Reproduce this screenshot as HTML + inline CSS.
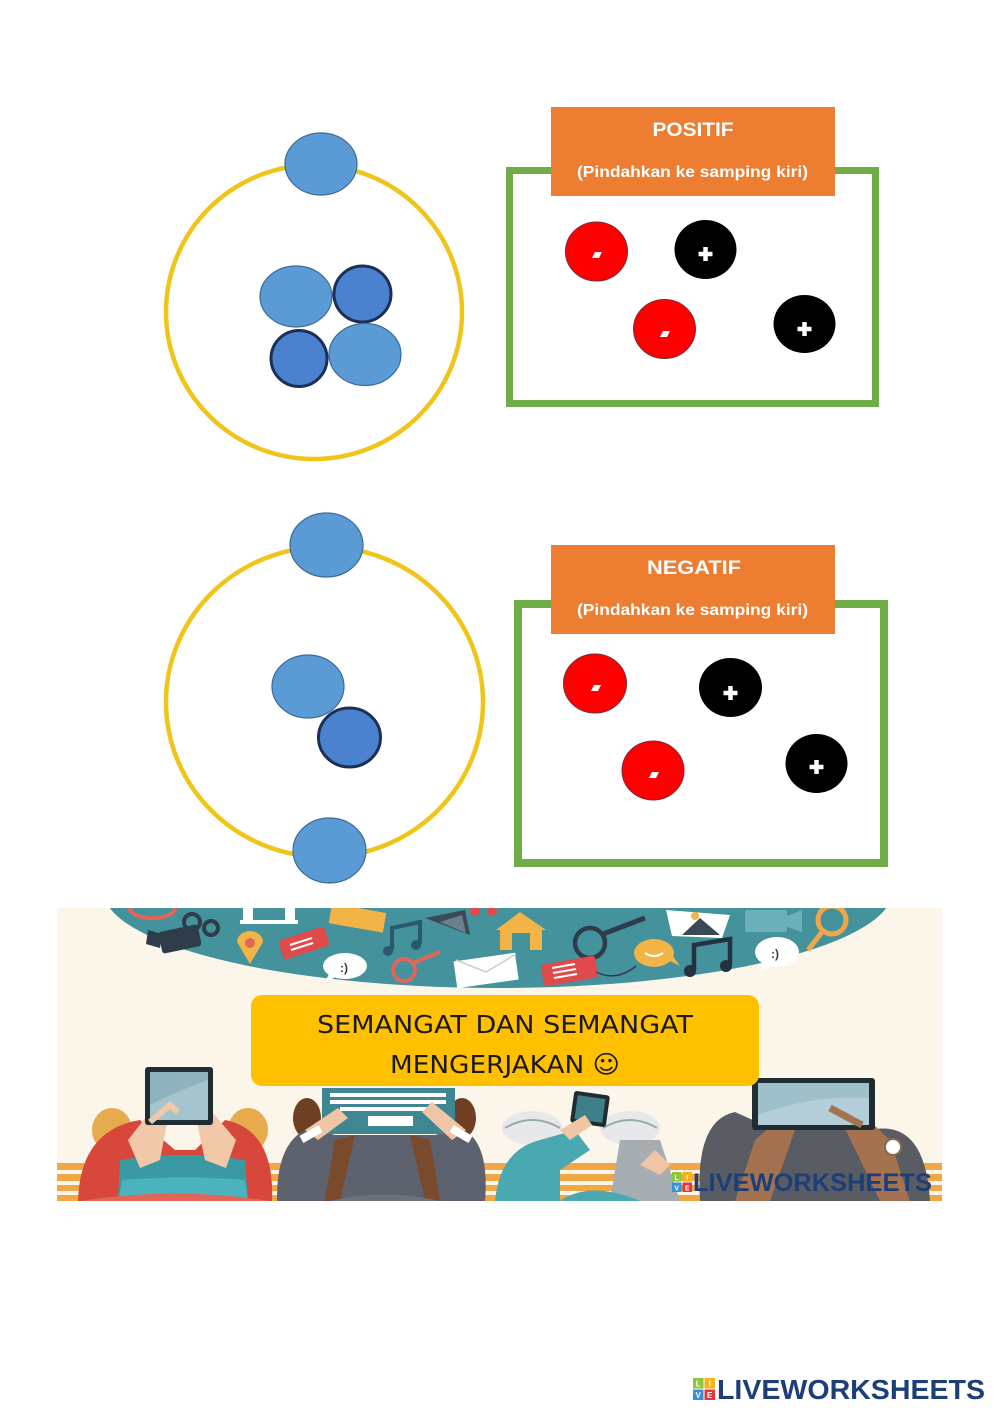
<!DOCTYPE html>
<html>
<head>
<meta charset="utf-8">
<style>
  html,body{margin:0;padding:0;background:#fff;}
  svg{display:block;}
  .lbl{font-family:"Liberation Sans",sans-serif;font-weight:bold;fill:#fff;}
  .cm{font-family:"Comic Sans MS","DejaVu Sans","Liberation Sans",sans-serif;fill:#1a1a1a;}
  .lw{font-family:"Liberation Sans",sans-serif;font-weight:bold;fill:#1d3f78;}
</style>
</head>
<body>
<svg width="1000" height="1414" viewBox="0 0 1000 1414" xmlns="http://www.w3.org/2000/svg">
  <rect width="1000" height="1414" fill="#fff"/>

  <!-- ===== ATOM 1 ===== -->
  <ellipse cx="314" cy="312" rx="148" ry="147" fill="none" stroke="#f0c419" stroke-width="4.5"/>
  <ellipse cx="321" cy="164" rx="36" ry="31" fill="#5b9bd5" stroke="#3d6a99" stroke-width="1.2"/>
  <ellipse cx="296" cy="296.5" rx="36" ry="30.5" fill="#5b9bd5" stroke="#3d6a99" stroke-width="1.2"/>
  <ellipse cx="362.5" cy="294" rx="28.5" ry="28" fill="#4a82d0" stroke="#1c2f55" stroke-width="3"/>
  <ellipse cx="299" cy="358.5" rx="28" ry="28" fill="#4a82d0" stroke="#1c2f55" stroke-width="3"/>
  <ellipse cx="365" cy="354.5" rx="36" ry="31" fill="#5b9bd5" stroke="#3d6a99" stroke-width="1.2"/>

  <!-- ===== POSITIF box ===== -->
  <rect x="509.5" y="170.5" width="366" height="233" fill="none" stroke="#70ad47" stroke-width="7"/>
  <rect x="551" y="107" width="284" height="89" fill="#ed7d31"/>
  <text class="lbl" x="693" y="136" font-size="19" text-anchor="middle" textLength="81" lengthAdjust="spacingAndGlyphs">POSITIF</text>
  <text class="lbl" x="692.5" y="177" font-size="16" text-anchor="middle" textLength="231" lengthAdjust="spacingAndGlyphs">(Pindahkan ke samping kiri)</text>

  <!-- charges 1 -->
  <g>
    <ellipse cx="596.5" cy="251.5" rx="31" ry="29.5" fill="#ff0000" stroke="#7a2a3a" stroke-width="1"/>
    <polygon points="592,258 599,258 602,252 595,252" fill="#fff"/>
    <ellipse cx="705.5" cy="249.5" rx="31" ry="29.5" fill="#000"/>
    <path d="M698.5 254 h14 M705.5 247 v14" stroke="#fff" stroke-width="4.5"/>
    <ellipse cx="664.5" cy="329" rx="31" ry="29.5" fill="#ff0000" stroke="#7a2a3a" stroke-width="1"/>
    <polygon points="660,337 667,337 670,331 663,331" fill="#fff"/>
    <ellipse cx="804.5" cy="324" rx="31" ry="29" fill="#000"/>
    <path d="M797.5 329 h14 M804.5 322 v14" stroke="#fff" stroke-width="4.5"/>
  </g>

  <!-- ===== ATOM 2 ===== -->
  <ellipse cx="324.5" cy="702" rx="158.5" ry="155" fill="none" stroke="#f0c419" stroke-width="4.5"/>
  <ellipse cx="326.5" cy="545" rx="36.5" ry="32" fill="#5b9bd5" stroke="#3d6a99" stroke-width="1.2"/>
  <ellipse cx="329.5" cy="850.5" rx="36.5" ry="32.5" fill="#5b9bd5" stroke="#3d6a99" stroke-width="1.2"/>
  <ellipse cx="308" cy="686.5" rx="36" ry="31.5" fill="#5b9bd5" stroke="#3d6a99" stroke-width="1.2"/>
  <ellipse cx="349.5" cy="737.5" rx="31" ry="29.5" fill="#4a82d0" stroke="#1c2f55" stroke-width="3"/>

  <!-- ===== NEGATIF box ===== -->
  <rect x="518" y="604" width="366" height="259" fill="none" stroke="#70ad47" stroke-width="8"/>
  <rect x="551" y="545" width="284" height="89" fill="#ed7d31"/>
  <text class="lbl" x="694" y="574" font-size="19" text-anchor="middle" textLength="94" lengthAdjust="spacingAndGlyphs">NEGATIF</text>
  <text class="lbl" x="692.5" y="615" font-size="16" text-anchor="middle" textLength="231" lengthAdjust="spacingAndGlyphs">(Pindahkan ke samping kiri)</text>

  <!-- charges 2 -->
  <g>
    <ellipse cx="595" cy="683.5" rx="31.5" ry="29.5" fill="#ff0000" stroke="#7a2a3a" stroke-width="1"/>
    <polygon points="591,691 598,691 601,685 594,685" fill="#fff"/>
    <ellipse cx="730.5" cy="687.5" rx="31.5" ry="29.5" fill="#000"/>
    <path d="M723.5 693 h14 M730.5 686 v14" stroke="#fff" stroke-width="4.5"/>
    <ellipse cx="653" cy="770.5" rx="31" ry="29.5" fill="#ff0000" stroke="#7a2a3a" stroke-width="1"/>
    <polygon points="649,778 656,778 659,772 652,772" fill="#fff"/>
    <ellipse cx="816.5" cy="763.5" rx="31" ry="29.5" fill="#000"/>
    <path d="M809.5 767 h14 M816.5 760 v14" stroke="#fff" stroke-width="4.5"/>
  </g>

  <!-- ===== BANNER ===== -->
  <defs>
    <clipPath id="bn"><rect x="57" y="908" width="885" height="293"/></clipPath>
  </defs>
  <g clip-path="url(#bn)">
    <rect x="57" y="908" width="885" height="293" fill="#fcf6ea"/>
    <!-- teal oval -->
    <ellipse cx="498" cy="890" rx="395" ry="98" fill="#43929c"/>
    <!-- icons -->
    <path d="M130 908 a22 10 0 0 0 45 0" fill="none" stroke="#e0665a" stroke-width="4"/>
    <rect x="243" y="908" width="10" height="14" fill="#fff"/><rect x="285" y="908" width="10" height="14" fill="#fff"/>
    <rect x="240" y="920" width="58" height="4" fill="#fff"/>
    <g fill="#2f3d4b">
      <rect x="160" y="928" width="40" height="22" rx="3" transform="rotate(-12 180 939)"/>
      <polygon points="148,930 162,934 160,948 146,944"/>
    </g>
    <circle cx="192" cy="922" r="8" fill="none" stroke="#2f3d4b" stroke-width="4"/>
    <circle cx="211" cy="928" r="7" fill="none" stroke="#2f3d4b" stroke-width="4"/>
    <path d="M237 942 a13 11 0 0 1 26 0 l-13 22 z" fill="#f2b347"/>
    <circle cx="250" cy="943" r="5" fill="#e0665a"/>
    <rect x="280" y="933" width="48" height="20" rx="3" fill="#e14a4a" transform="rotate(-18 304 943)"/>
    <g stroke="#fff" stroke-width="2"><line x1="290" y1="945" x2="312" y2="938"/><line x1="291" y1="950" x2="313" y2="943"/></g>
    <rect x="330" y="908" width="55" height="20" fill="#f2b347" transform="rotate(10 357 918)"/>
    <path d="M392 950 v-22 l28 -6 v22" fill="none" stroke="#2a5870" stroke-width="4"/>
    <circle cx="388" cy="951" r="5" fill="#2a5870"/><circle cx="416" cy="945" r="5" fill="#2a5870"/>
    <polygon points="425,918 465,910 470,935" fill="#3a4a56"/>
    <polygon points="440,922 462,915 466,933" fill="#6b7f8e"/>
    <ellipse cx="345" cy="966" rx="22" ry="13" fill="#fff"/>
    <polygon points="330,972 325,982 338,976" fill="#fff"/>
    <text x="340" y="972" font-family="Liberation Sans,sans-serif" font-size="12" font-weight="bold" fill="#2f3d4b">:)</text>
    <circle cx="404" cy="970" r="11" fill="none" stroke="#e0665a" stroke-width="4"/>
    <line x1="413" y1="963" x2="440" y2="952" stroke="#e0665a" stroke-width="4"/>
    <rect x="455" y="957" width="62" height="27" fill="#fff" transform="rotate(-8 486 970)"/>
    <path d="M456 960 l30 12 l30 -18" fill="none" stroke="#ccc" stroke-width="1.5"/>
    <circle cx="475" cy="911" r="5" fill="#e14a4a"/><circle cx="492" cy="911" r="5" fill="#e14a4a"/>
    <polygon points="496,930 520,912 546,930" fill="#f2b347"/>
    <rect x="500" y="928" width="42" height="22" fill="#f2b347"/>
    <rect x="512" y="933" width="18" height="17" fill="#43929c"/>
    <circle cx="590" cy="943" r="15" fill="none" stroke="#2f3d4b" stroke-width="4.5"/>
    <line x1="603" y1="934" x2="645" y2="918" stroke="#2f3d4b" stroke-width="5"/>
    <rect x="542" y="960" width="55" height="22" rx="3" fill="#e14a4a" transform="rotate(-10 570 971)"/>
    <g stroke="#fff" stroke-width="2"><line x1="552" y1="968" x2="575" y2="964"/><line x1="553" y1="973" x2="576" y2="969"/><line x1="554" y1="978" x2="577" y2="974"/></g>
    <path d="M596 972 q20 10 40 -6" fill="none" stroke="#2f3d4b" stroke-width="1.5"/>
    <polygon points="666,910 730,915 722,938 672,936" fill="#fff"/>
    <polygon points="682,935 700,918 720,935" fill="#3a4a56"/>
    <circle cx="695" cy="916" r="4" fill="#f2b347"/>
    <ellipse cx="654" cy="953" rx="20" ry="14" fill="#f2b347"/>
    <polygon points="668,960 680,966 670,952" fill="#f2b347"/>
    <path d="M645 953 q9 6 18 0" fill="none" stroke="#fff" stroke-width="2"/>
    <path d="M694 970 v-25 l36 -6 v26" fill="none" stroke="#23323e" stroke-width="4.5"/>
    <circle cx="690" cy="971" r="6" fill="#23323e"/><circle cx="726" cy="966" r="6" fill="#23323e"/>
    <rect x="745" y="910" width="42" height="22" rx="2" fill="#6cb1b9"/>
    <polygon points="787,916 802,910 802,932 787,927" fill="#6cb1b9"/>
    <ellipse cx="777" cy="952" rx="22" ry="15" fill="#fff"/>
    <polygon points="765,960 760,972 775,964" fill="#fff"/>
    <text x="771" y="958" font-family="Liberation Sans,sans-serif" font-size="12" font-weight="bold" fill="#2f3d4b">:)</text>
    <circle cx="832" cy="920" r="14" fill="none" stroke="#f2a54a" stroke-width="5"/>
    <line x1="822" y1="932" x2="808" y2="950" stroke="#f2a54a" stroke-width="5"/>

    <!-- stripes -->
    <g fill="#f3a644">
      <rect x="57" y="1163" width="885" height="7"/>
      <rect x="57" y="1174" width="885" height="7"/>
      <rect x="57" y="1185" width="885" height="6"/>
      <rect x="57" y="1195" width="885" height="6"/>
    </g>

    <!-- person 1 -->
    <ellipse cx="112" cy="1130" rx="20" ry="22" fill="#e7aa4c"/>
    <ellipse cx="248" cy="1130" rx="20" ry="22" fill="#e7aa4c"/>
    <path d="M78 1201 Q80 1130 140 1120 L175 1150 L195 1150 L225 1120 Q275 1130 272 1201 Z" fill="#d8473b"/>
    <path d="M118 1201 L120 1160 Q182 1150 245 1160 L248 1201 Z" fill="#3a9aa4"/>
    <path d="M122 1180 Q185 1175 245 1180 L248 1201 L118 1201 Z" fill="#4bb3bd"/>
    <path d="M140 1168 L128 1140 L150 1112 L168 1118 L160 1160 Z" fill="#f1c8a8"/>
    <path d="M226 1168 L236 1140 L212 1112 L196 1118 L205 1160 Z" fill="#f1c8a8"/>
    <path d="M80 1201 Q175 1186 270 1201 Z" fill="#e0665a"/>
    <rect x="145" y="1067" width="68" height="58" rx="3" fill="#1f2d33"/>
    <rect x="150" y="1072" width="58" height="48" fill="#8fb2bf"/>
    <path d="M150 1105 Q180 1090 208 1080 V1120 H150 Z" fill="#a6c4ce"/>
    <path d="M150 1122 L170 1105 L178 1112" fill="none" stroke="#f1c8a8" stroke-width="6"/>

    <!-- person 2 -->
    <ellipse cx="307" cy="1118" rx="14" ry="20" fill="#6e3f22"/>
    <ellipse cx="462" cy="1118" rx="14" ry="20" fill="#6e3f22"/>
    <path d="M277 1201 Q276 1140 310 1128 L335 1135 L435 1135 L460 1128 Q490 1140 485 1201 Z" fill="#5d626e"/>
    <path d="M325 1201 L335 1140 L355 1135 L340 1201 Z" fill="#7a4a2c"/>
    <path d="M440 1201 L430 1140 L410 1135 L425 1201 Z" fill="#7a4a2c"/>
    <path d="M330 1201 Q385 1188 440 1201 Z" fill="#6c717c"/>
    <rect x="322" y="1088" width="133" height="46" fill="#3e8692"/>
    <g fill="#fff">
      <rect x="330" y="1093" width="116" height="4"/>
      <rect x="330" y="1100" width="116" height="4"/>
      <rect x="340" y="1107" width="96" height="4"/>
      <rect x="368" y="1116" width="45" height="10"/>
    </g>
    <path d="M305 1130 L338 1108 L348 1118 L318 1140 Z" fill="#efc5a5"/>
    <path d="M466 1130 L432 1102 L422 1112 L452 1140 Z" fill="#efc5a5"/>
    <rect x="300" y="1130" width="22" height="8" fill="#fff" transform="rotate(-30 311 1134)"/>
    <rect x="450" y="1130" width="22" height="8" fill="#fff" transform="rotate(30 461 1134)"/>

    <!-- person 3 -->
    <ellipse cx="532" cy="1128" rx="30" ry="17" fill="#e8e8ea"/>
    <ellipse cx="630" cy="1128" rx="30" ry="17" fill="#e8e8ea"/>
    <path d="M505 1128 Q532 1112 560 1128" fill="none" stroke="#9aa" stroke-width="2"/>
    <path d="M603 1128 Q630 1112 657 1128" fill="none" stroke="#9aa" stroke-width="2"/>
    <path d="M495 1201 Q500 1150 540 1140 L575 1130 L590 1150 L560 1170 L560 1201 Z" fill="#4aa8b1"/>
    <path d="M610 1201 L620 1140 L660 1140 L680 1201 Z" fill="#a6adb3"/>
    <path d="M560 1201 Q590 1180 640 1201 Z" fill="#4aa8b1"/>
    <rect x="572" y="1093" width="36" height="32" rx="3" fill="#1f2d33" transform="rotate(8 590 1109)"/>
    <rect x="576" y="1097" width="28" height="24" fill="#3f7f8a" transform="rotate(8 590 1109)"/>
    <path d="M560 1130 L585 1115 L592 1125 L570 1140 Z" fill="#efc5a5"/>
    <path d="M640 1165 L655 1150 L670 1165 L660 1175 Z" fill="#efc5a5"/>

    <!-- person 4 -->
    <path d="M700 1201 Q695 1120 735 1112 L775 1130 L870 1130 Q925 1118 930 1201 Z" fill="#595c62"/>
    <path d="M740 1201 L765 1130 L785 1135 L770 1201 Z" fill="#3e4045"/>
    <path d="M905 1201 L880 1130 L860 1135 L880 1201 Z" fill="#3e4045"/>
    <path d="M735 1201 L755 1140 L780 1118 L795 1130 L770 1201 Z" fill="#a47250"/>
    <path d="M910 1201 L890 1140 L860 1112 L840 1118 L880 1201 Z" fill="#a47250"/>
    <rect x="752" y="1078" width="123" height="52" rx="3" fill="#1f2d33"/>
    <rect x="758" y="1083" width="111" height="42" fill="#9fbfcb"/>
    <path d="M758 1115 Q810 1095 869 1098 V1125 H758 Z" fill="#b3ced8"/>
    <path d="M830 1108 L862 1125" stroke="#a47250" stroke-width="7"/>
    <circle cx="893" cy="1147" r="8" fill="#fff" stroke="#8a6a4a" stroke-width="2"/>

    <!-- logo in banner -->
    <rect x="672" y="1172" width="9.5" height="9.5" fill="#8cc63f"/>
    <rect x="682.5" y="1172" width="9.5" height="9.5" fill="#f6b21b"/>
    <rect x="672" y="1182.5" width="9.5" height="9.5" fill="#3a8fd6"/>
    <rect x="682.5" y="1182.5" width="9.5" height="9.5" fill="#e8343b"/>
    <g font-family="Liberation Sans,sans-serif" font-size="7" font-weight="bold" fill="#fff" text-anchor="middle">
      <text x="676.7" y="1180">L</text><text x="687.2" y="1180">I</text>
      <text x="676.7" y="1190.5">V</text><text x="687.2" y="1190.5">E</text>
    </g>
    <text class="lw" x="693" y="1191" font-size="25" textLength="239" lengthAdjust="spacingAndGlyphs">LIVEWORKSHEETS</text>
  </g>

  <!-- yellow message box -->
  <rect x="251" y="995" width="508" height="91" rx="11" fill="#ffc000"/>
  <text class="cm" x="317" y="1033" font-size="25" textLength="376" lengthAdjust="spacingAndGlyphs">SEMANGAT DAN SEMANGAT</text>
  <text class="cm" x="390" y="1073" font-size="25" textLength="230" lengthAdjust="spacingAndGlyphs">MENGERJAKAN ☺</text>

  <!-- bottom logo -->
  <rect x="693" y="1378" width="10.5" height="10.5" fill="#8cc63f"/>
  <rect x="704.5" y="1378" width="10.5" height="10.5" fill="#f6b21b"/>
  <rect x="693" y="1389.5" width="10.5" height="10.5" fill="#3a8fd6"/>
  <rect x="704.5" y="1389.5" width="10.5" height="10.5" fill="#e8343b"/>
  <g font-family="Liberation Sans,sans-serif" font-size="8" font-weight="bold" fill="#fff" text-anchor="middle">
    <text x="698.2" y="1386.5">L</text><text x="709.7" y="1386.5">I</text>
    <text x="698.2" y="1398">V</text><text x="709.7" y="1398">E</text>
  </g>
  <text class="lw" x="717" y="1399" font-size="28" textLength="268" lengthAdjust="spacingAndGlyphs">LIVEWORKSHEETS</text>
</svg>
</body>
</html>
